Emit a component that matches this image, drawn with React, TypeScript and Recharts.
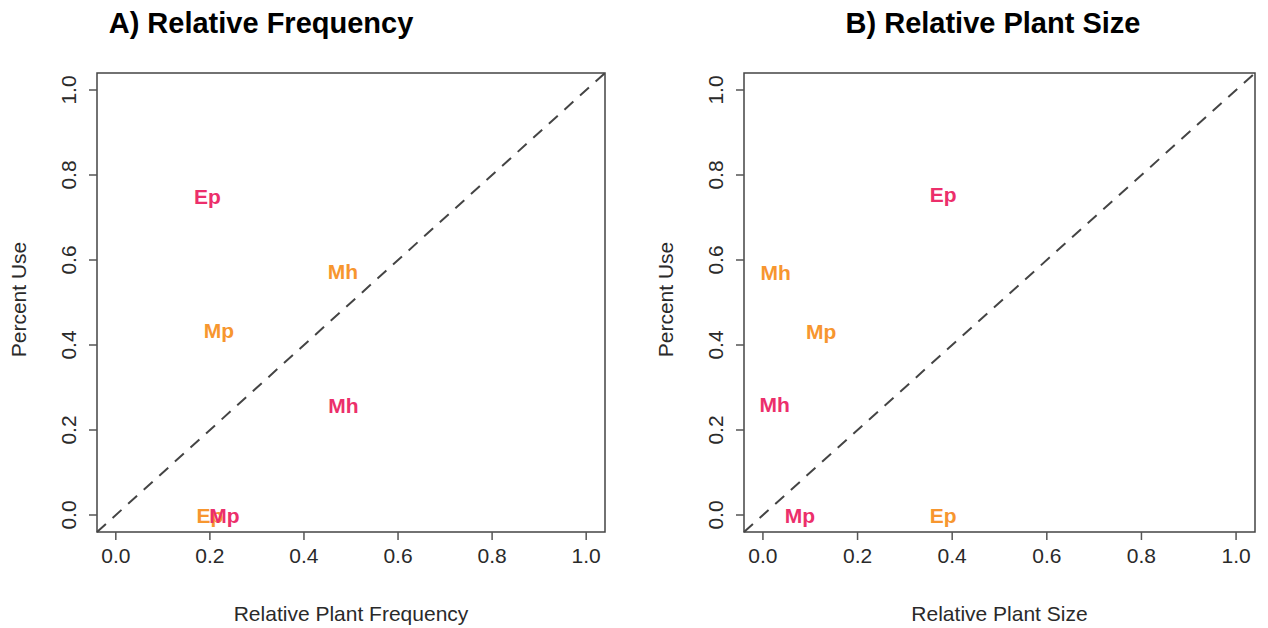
import React from 'react';
import {
  ScatterChart,
  Scatter,
  XAxis,
  YAxis,
  ReferenceLine,
  ReferenceArea,
} from 'recharts';

const labels = ['Ep', 'Mh', 'Mp'];

// A) relative plant frequency
const freqPinkX = [0.195, 0.484, 0.231];
const freqPinkY = [0.75, 0.257, 0.0];
const freqOrangeX = [0.2, 0.483, 0.219];
const freqOrangeY = [0.0, 0.572, 0.434];

// B) relative plant size
const sizePinkX = [0.381, 0.025, 0.078];
const sizePinkY = [0.755, 0.259, 0.0];
const sizeOrangeX = [0.381, 0.027, 0.123];
const sizeOrangeY = [0.0, 0.571, 0.431];

const axisTicks = [0, 0.2, 0.4, 0.6, 0.8, 1.0];

const PINK = '#EC2F6B';
const ORANGE = '#F7962F';
const FONT = '"Liberation Sans", Arial, Helvetica, sans-serif';
const LO = -0.04;
const HI = 1.04;

const toPoints = (xs: number[], ys: number[]) =>
  labels.map((label, i) => ({ label, x: xs[i], y: ys[i] }));

const labelShape = (color: string) => (props: any) => {
  const { cx, cy, payload } = props;
  return (
    <text
      x={cx}
      y={cy}
      dy="0.36em"
      textAnchor="middle"
      fill={color}
      fontFamily={FONT}
      fontWeight="bold"
      fontSize={21}
    >
      {payload.label}
    </text>
  );
};

const XTick = (props: any) => {
  const { x, y, payload } = props;
  return (
    <text x={x} y={y + 23} textAnchor="middle" fill="#2a2a2a" fontFamily={FONT} fontSize={21}>
      {Number(payload.value).toFixed(1)}
    </text>
  );
};

const YTick = (props: any) => {
  const { x, y, payload } = props;
  const bx = x - 13.5;
  return (
    <text
      x={bx}
      y={y}
      transform={`rotate(-90 ${bx} ${y})`}
      textAnchor="middle"
      fill="#2a2a2a"
      fontFamily={FONT}
      fontSize={21}
    >
      {Number(payload.value).toFixed(1)}
    </text>
  );
};

interface PanelProps {
  title: string;
  titleX: number;
  xLabel: string;
  left: number;
  marginLeft: number;
  marginRight: number;
  pink: { label: string; x: number; y: number }[];
  orange: { label: string; x: number; y: number }[];
}

function Panel({ title, titleX, xLabel, left, marginLeft, marginRight, pink, orange }: PanelProps) {
  return (
    <div style={{ position: 'absolute', left, top: 0, width: 634, height: 628 }}>
      <div
        style={{
          position: 'absolute',
          left: titleX - 200,
          width: 400,
          top: 9,
          textAlign: 'center',
          fontFamily: FONT,
          fontWeight: 'bold',
          fontSize: 29,
          lineHeight: '29px',
          color: '#000',
        }}
      >
        {title}
      </div>
      <ScatterChart
        width={634}
        height={628}
        margin={{ top: 73, right: marginRight, bottom: 36, left: marginLeft }}
      >
        <XAxis
          type="number"
          dataKey="x"
          domain={[LO, HI]}
          ticks={axisTicks}
          allowDataOverflow
          axisLine={false}
          tickLine={{ stroke: '#555', strokeWidth: 1.5 }}
          tickSize={8}
          tickMargin={0}
          height={60}
          tick={<XTick />}
          label={(p: any) => {
            const vb = p.viewBox;
            return (
              <text
                x={vb.x + vb.width / 2}
                y={vb.y + 89}
                textAnchor="middle"
                fill="#2a2a2a"
                fontFamily={FONT}
                fontSize={21}
              >
                {xLabel}
              </text>
            );
          }}
        />
        <YAxis
          type="number"
          dataKey="y"
          domain={[LO, HI]}
          ticks={axisTicks}
          allowDataOverflow
          axisLine={false}
          tickLine={{ stroke: '#555', strokeWidth: 1.5 }}
          tickSize={8}
          tickMargin={0}
          width={60}
          tick={<YTick />}
          label={(p: any) => {
            const vb = p.viewBox;
            const bx = vb.x + vb.width - 71.5;
            const cy = vb.y + vb.height / 2 - 3;
            return (
              <text
                x={bx}
                y={cy}
                transform={`rotate(-90 ${bx} ${cy})`}
                textAnchor="middle"
                fill="#2a2a2a"
                fontFamily={FONT}
                fontSize={21}
              >
                Percent Use
              </text>
            );
          }}
        />
        <ReferenceArea
          x1={LO}
          x2={HI}
          y1={LO}
          y2={HI}
          fill="none"
          fillOpacity={0}
          stroke="#444"
          strokeWidth={1.5}
        />
        <ReferenceLine
          segment={[
            { x: LO, y: LO },
            { x: HI, y: HI },
          ]}
          stroke="#444"
          strokeWidth={2}
          strokeDasharray="12 9"
        />
        <Scatter data={orange} shape={labelShape(ORANGE)} isAnimationActive={false} />
        <Scatter data={pink} shape={labelShape(PINK)} isAnimationActive={false} />
      </ScatterChart>
    </div>
  );
}

export default function App() {
  return (
    <div
      style={{
        position: 'absolute',
        left: 0,
        top: 0,
        width: 1268,
        height: 628,
        background: '#fff',
        fontFamily: FONT,
      }}
    >
      <Panel
        title="A) Relative Frequency"
        titleX={261}
        xLabel="Relative Plant Frequency"
        left={0}
        marginLeft={37}
        marginRight={29}
        pink={toPoints(freqPinkX, freqPinkY)}
        orange={toPoints(freqOrangeX, freqOrangeY)}
      />
      <Panel
        title="B) Relative Plant Size"
        titleX={359}
        xLabel="Relative Plant Size"
        left={634}
        marginLeft={50}
        marginRight={13}
        pink={toPoints(sizePinkX, sizePinkY)}
        orange={toPoints(sizeOrangeX, sizeOrangeY)}
      />
    </div>
  );
}
